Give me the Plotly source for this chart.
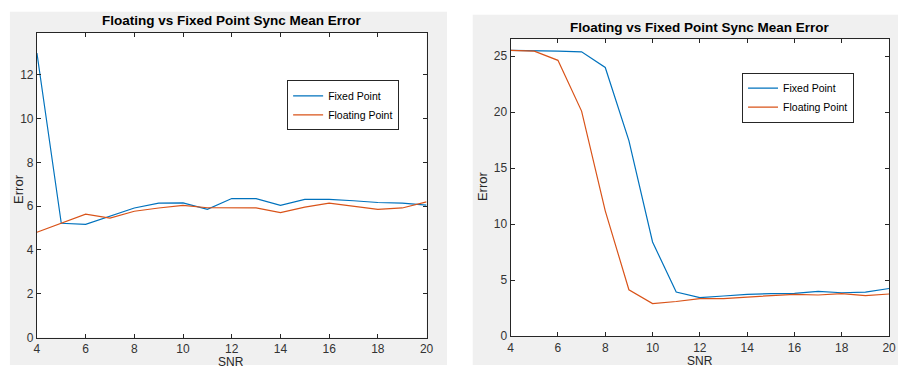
import plotly.graph_objects as go

snr = list(range(4, 21))

left_fixed = [13.0, 5.22, 5.17, 5.53, 5.92, 6.14, 6.15, 5.86, 6.35, 6.35, 6.04, 6.31, 6.31, 6.25, 6.17, 6.14, 6.05]
left_float = [4.81, 5.22, 5.64, 5.46, 5.77, 5.92, 6.04, 5.93, 5.93, 5.92, 5.71, 5.96, 6.14, 6.01, 5.86, 5.92, 6.20]

right_fixed = [25.5, 25.5, 25.44, 25.38, 23.98, 17.46, 8.41, 3.94, 3.45, 3.59, 3.74, 3.80, 3.83, 4.0, 3.88, 3.94, 4.26]
right_float = [25.5, 25.44, 24.62, 20.09, 11.19, 4.15, 2.92, 3.1, 3.36, 3.36, 3.5, 3.59, 3.74, 3.68, 3.8, 3.62, 3.77]

x_ticks = [4, 6, 8, 10, 12, 14, 16, 18, 20]
left_yticks = [0, 2, 4, 6, 8, 10, 12]
right_yticks = [0, 5, 10, 15, 20, 25]

title_text = "Floating vs Fixed Point Sync Mean Error"
names = ["Fixed Point", "Floating Point"]

BLUE = "#0072BD"
ORANGE = "#D95319"
AXC = "#262626"
GRAY = "#F0F0F0"
FONT = "Liberation Sans, Arial, Helvetica, sans-serif"

W, H = 905, 372
def px(x): return x / W
def py(y): return 1 - y / H

L_dom_x = [px(34.3), px(428.3)]
L_dom_y = [py(344), py(33.3)]
R_dom_x = [px(513.3), px(896)]
R_dom_y = [py(342.7), py(40)]

fig = go.Figure()
fig.add_trace(go.Scatter(x=snr, y=left_fixed, mode="lines", name=names[0],
                         line=dict(color=BLUE, width=1.2), xaxis="x", yaxis="y", legend="legend"))
fig.add_trace(go.Scatter(x=snr, y=left_float, mode="lines", name=names[1],
                         line=dict(color=ORANGE, width=1.2), xaxis="x", yaxis="y", legend="legend"))
fig.add_trace(go.Scatter(x=snr, y=right_fixed, mode="lines", name=names[0],
                         line=dict(color=BLUE, width=1.2), xaxis="x2", yaxis="y2", legend="legend2"))
fig.add_trace(go.Scatter(x=snr, y=right_float, mode="lines", name=names[1],
                         line=dict(color=ORANGE, width=1.2), xaxis="x2", yaxis="y2", legend="legend2"))

axis_common = dict(showline=True, linecolor=AXC, linewidth=1, mirror="ticks",
                   ticks="inside", ticklen=4, tickcolor=AXC, showgrid=False, zeroline=False,
                   tickfont=dict(family=FONT, size=12, color="#333333"))

legend_common = dict(bgcolor="white", bordercolor=AXC, borderwidth=1,
                     font=dict(family=FONT, size=10.5, color="black"),
                     xanchor="left", yanchor="top", tracegroupgap=0,
                     itemwidth=30)

shapes = [
    dict(type="rect", xref="paper", yref="paper", x0=px(7), x1=px(449), y0=0, y1=py(12),
         fillcolor=GRAY, line=dict(width=0), layer="below"),
    dict(type="rect", xref="paper", yref="paper", x0=px(475), x1=1, y0=0, y1=py(15),
         fillcolor=GRAY, line=dict(width=0), layer="below"),
    dict(type="rect", xref="paper", yref="paper", x0=L_dom_x[0], x1=L_dom_x[1], y0=L_dom_y[0], y1=L_dom_y[1],
         fillcolor="white", line=dict(width=0), layer="below"),
    dict(type="rect", xref="paper", yref="paper", x0=R_dom_x[0], x1=R_dom_x[1], y0=R_dom_y[0], y1=R_dom_y[1],
         fillcolor="white", line=dict(width=0), layer="below"),
]

annotations = [
    dict(text="<b>" + title_text + "</b>", x=px(231.7), y=py(21), xref="paper", yref="paper",
         showarrow=False, font=dict(family=FONT, size=13.5, color="black"), xanchor="center", yanchor="middle"),
    dict(text="<b>" + title_text + "</b>", x=px(704.7), y=py(28.3), xref="paper", yref="paper",
         showarrow=False, font=dict(family=FONT, size=13.5, color="black"), xanchor="center", yanchor="middle"),
    dict(text="Error", x=px(15.7), y=py(193), xref="paper", yref="paper", textangle=-90,
         showarrow=False, font=dict(family=FONT, size=13, color=AXC), xanchor="center", yanchor="middle"),
    dict(text="Error", x=px(485), y=py(190), xref="paper", yref="paper", textangle=-90,
         showarrow=False, font=dict(family=FONT, size=13, color=AXC), xanchor="center", yanchor="middle"),
    dict(text="SNR", x=px(231), y=py(360), xref="paper", yref="paper",
         showarrow=False, font=dict(family=FONT, size=12, color=AXC), xanchor="center", yanchor="top"),
    dict(text="SNR", x=px(704.3), y=py(359), xref="paper", yref="paper",
         showarrow=False, font=dict(family=FONT, size=12, color=AXC), xanchor="center", yanchor="top"),
]

fig.update_layout(
    width=W, height=H,
    margin=dict(l=0, r=0, t=0, b=0),
    paper_bgcolor="white",
    plot_bgcolor="white",
    showlegend=True,
    xaxis=dict(domain=L_dom_x, anchor="y", range=[4, 20], tickvals=x_ticks, **axis_common),
    yaxis=dict(domain=L_dom_y, anchor="x", range=[0, 13.93], tickvals=left_yticks, **axis_common),
    xaxis2=dict(domain=R_dom_x, anchor="y2", range=[4, 20], tickvals=x_ticks, **axis_common),
    yaxis2=dict(domain=R_dom_y, anchor="x2", range=[0, 26.5], tickvals=right_yticks, **axis_common),
    legend=dict(x=px(287.3), y=py(82), **legend_common),
    legend2=dict(x=px(747.3), y=py(74), **legend_common),
    shapes=shapes,
    annotations=annotations,
)

fig.write_html("out.html", config={"displayModeBar": False},
               post_script="document.body.style.margin='0';document.body.style.overflow='hidden';")
